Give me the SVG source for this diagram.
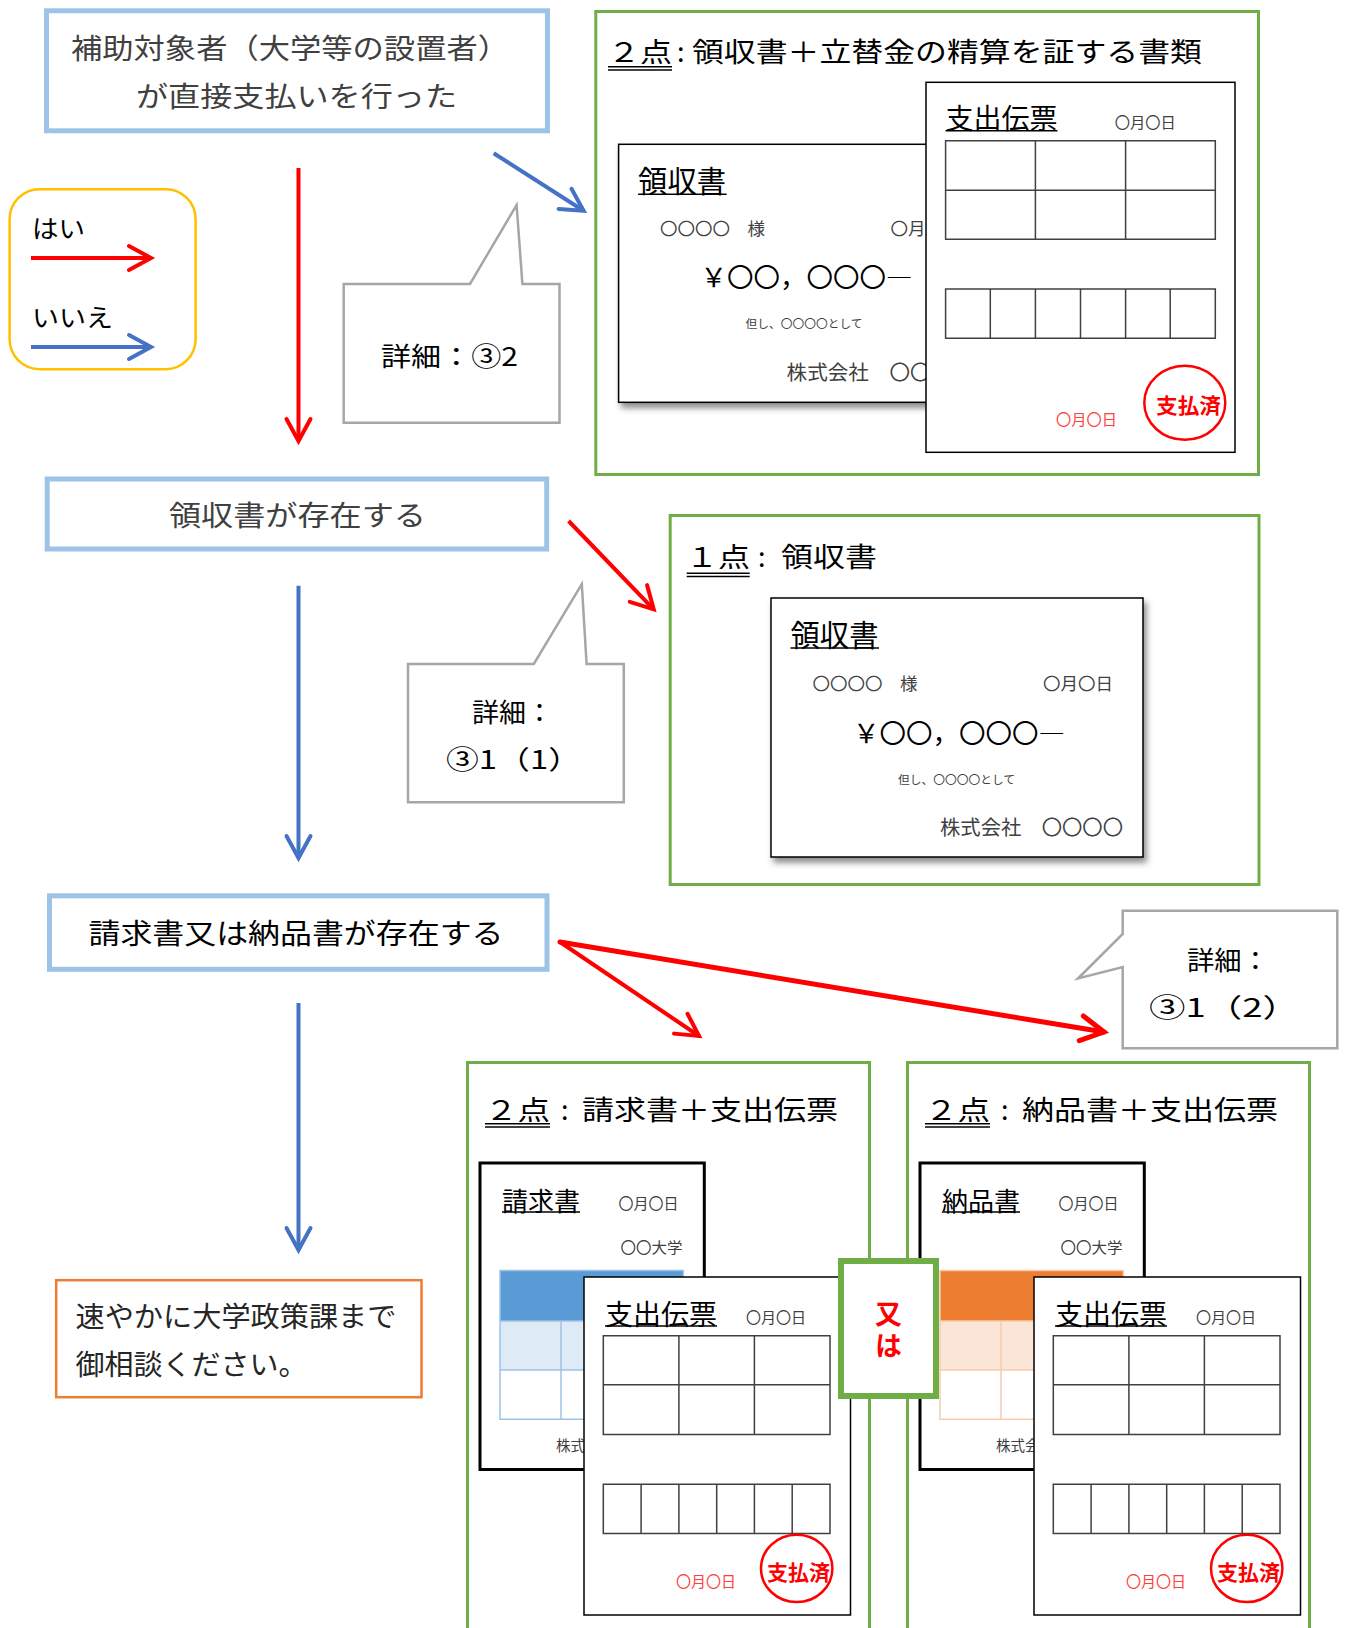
<svg xmlns="http://www.w3.org/2000/svg" width="1346" height="1628" viewBox="0 0 1346 1628">
  <style>
    text { font-family: "Noto Sans CJK JP", "Noto Sans CJK SC", sans-serif; dominant-baseline: central; }
    .flow { fill: #fff; stroke: #9DC3E6; stroke-width: 5; }
    .green { fill: #fff; stroke: #70AD47; stroke-width: 3; }
    .callout { fill: #fff; stroke: #A6A6A6; stroke-width: 2.5; stroke-linejoin: miter; }
    .card { fill: #fff; stroke: #000; stroke-width: 1.5; }
    .card-heavy { fill: #fff; stroke: #000; stroke-width: 3; }
    .grid { fill: none; stroke: #404040; stroke-width: 1.5; }
    .ul { stroke: #000; stroke-width: 1.5; }
    .dark { fill: #404040; }
    .black { fill: #000; }
    .small { fill: #404040; }
    .stamp { fill: none; stroke: #FF0000; stroke-width: 2.5; }
    .stamp-text { fill: #FF0000; font-weight: bold; }
    .red-date { fill: #FF4040; }
    .arrow { fill: none; stroke-width: 4; }
  </style>
  <defs>
    <filter id="shadow" x="-5%" y="-5%" width="115%" height="120%">
      <feDropShadow dx="3" dy="5" stdDeviation="3" flood-color="#000" flood-opacity="0.45"/>
    </filter>
    <marker id="head-red" markerUnits="userSpaceOnUse" viewBox="-30 -20 40 40" markerWidth="40" markerHeight="40" refX="0" refY="0" orient="auto" overflow="visible">
      <path d="M-22,-12 L0,0 L-22,12" fill="none" stroke="#FF0000" stroke-width="4" stroke-linecap="round" stroke-linejoin="miter"/>
    </marker>
    <marker id="head-red-thick" markerUnits="userSpaceOnUse" viewBox="-30 -20 40 40" markerWidth="40" markerHeight="40" refX="0" refY="0" orient="auto" overflow="visible">
      <path d="M-23,-12.5 L0,0 L-23,12.5" fill="none" stroke="#FF0000" stroke-width="5" stroke-linecap="round" stroke-linejoin="miter"/>
    </marker>
    <marker id="head-blue" markerUnits="userSpaceOnUse" viewBox="-30 -20 40 40" markerWidth="40" markerHeight="40" refX="0" refY="0" orient="auto" overflow="visible">
      <path d="M-22,-12 L0,0 L-22,12" fill="none" stroke="#4472C4" stroke-width="4" stroke-linecap="round" stroke-linejoin="miter"/>
    </marker>
  </defs>

  <rect width="1346" height="1628" fill="#fff"/>

  <!-- flow step: direct payment -->
  <g id="node-start">
    <rect class="flow" x="46.5" y="10.8" width="501" height="120"/>
    <text class="dark" x="71" y="47" font-size="28" textLength="438" lengthAdjust="spacingAndGlyphs">補助対象者（大学等の設置者）</text>
    <text class="dark" x="136" y="95" font-size="28" textLength="321" lengthAdjust="spacingAndGlyphs">が直接支払いを行った</text>
  </g>

  <!-- legend -->
  <g id="legend">
    <rect x="9.6" y="189.2" width="186" height="180" rx="30" fill="#fff" stroke="#FFC000" stroke-width="2.5"/>
    <text class="black" x="32" y="227" font-size="25" textLength="53" lengthAdjust="spacingAndGlyphs">はい</text>
    <path class="arrow" d="M31,258 L151,258" stroke="#FF0000" marker-end="url(#head-red)"/>
    <text class="black" x="32" y="316" font-size="25" textLength="81" lengthAdjust="spacingAndGlyphs">いいえ</text>
    <path class="arrow" d="M31,347 L151,347" stroke="#4472C4" marker-end="url(#head-blue)"/>
  </g>

  <!-- callout: detail 3-2 -->
  <g id="callout-1">
    <path class="callout" d="M343.7,284 L470,284 L516.6,205 L522.4,284 L559.5,284 L559.5,422.7 L343.7,422.7 Z"/>
    <text class="black" x="381" y="354" font-size="26" textLength="137" lengthAdjust="spacingAndGlyphs">詳細：③2</text>
  </g>

  <!-- two documents: receipt + expense slip -->
  <g id="doc-two-reimburse">
    <rect class="green" x="595.8" y="11.5" width="662.7" height="463"/>
    <text class="black" x="608" y="50" font-size="27" textLength="64" lengthAdjust="spacingAndGlyphs">２点</text>
    <line class="ul" x1="608" y1="66.7" x2="672" y2="66.7"/>
    <line class="ul" x1="608" y1="70" x2="672" y2="70"/>
    <text class="black" x="677" y="50" font-size="27">:</text>
    <text class="black" x="692" y="50" font-size="27" textLength="510" lengthAdjust="spacingAndGlyphs">領収書＋立替金の精算を証する書類</text>

    <!-- receipt (partly covered) -->
    <g transform="translate(618.6,144.3)">
      <rect class="card" x="0" y="0" width="372" height="258" filter="url(#shadow)"/>
      <text class="black" x="19.5" y="34.5" font-size="29.5" textLength="88" lengthAdjust="spacingAndGlyphs">領収書</text>
      <line class="ul" x1="19.5" y1="50" x2="108" y2="50"/>
      <text class="small" x="41.5" y="83" font-size="17.5" textLength="105" lengthAdjust="spacingAndGlyphs">〇〇〇〇　様</text>
      <text class="small" x="272" y="83" font-size="17.5" textLength="70" lengthAdjust="spacingAndGlyphs">〇月〇日</text>
      <text class="black" x="82" y="131" font-size="26.5" textLength="212" lengthAdjust="spacingAndGlyphs">￥〇〇，〇〇〇―</text>
      <text class="small" x="127" y="178.5" font-size="11.7" textLength="117" lengthAdjust="spacingAndGlyphs">但し、〇〇〇〇として</text>
      <text class="small" x="168" y="227" font-size="20" textLength="185" lengthAdjust="spacingAndGlyphs">株式会社　〇〇〇〇</text>
    </g>

    <!-- expense slip -->
    <rect class="card" x="926" y="82.3" width="309" height="370"/>
    <text class="black" x="945.6" y="117" font-size="28" textLength="112" lengthAdjust="spacingAndGlyphs">支出伝票</text>
    <line class="ul" x1="945.6" y1="130.7" x2="1057.5" y2="130.7"/>
    <text class="small" x="1114.7" y="121.7" font-size="15" textLength="61" lengthAdjust="spacingAndGlyphs">〇月〇日</text>
    <path class="grid" d="M945.6,140.7 H1215.3 V239.3 H945.6 Z M945.6,190.3 H1215.3 M1035.4,140.7 V239.3 M1125.6,140.7 V239.3"/>
    <path class="grid" d="M945.6,289 H1215.3 V338.3 H945.6 Z M990.3,289 V338.3 M1035.4,289 V338.3 M1080.5,289 V338.3 M1125.6,289 V338.3 M1170.2,289 V338.3"/>
    <text class="red-date" x="1056" y="418" font-size="15" textLength="61" lengthAdjust="spacingAndGlyphs">〇月〇日</text>
    <ellipse class="stamp" cx="1184.8" cy="402.8" rx="40.5" ry="37"/>
    <text class="stamp-text" x="1156" y="404" font-size="21" textLength="65" lengthAdjust="spacingAndGlyphs">支払済</text>
  </g>

  <!-- flow step: receipt exists -->
  <g id="node-receipt">
    <rect class="flow" x="47.2" y="479" width="499.5" height="70"/>
    <text class="dark" x="169" y="514" font-size="28" textLength="257" lengthAdjust="spacingAndGlyphs">領収書が存在する</text>
  </g>

  <!-- callout: detail 3-1(1) -->
  <g id="callout-2">
    <path class="callout" d="M408,664 L533.8,664 L581.8,584 L586.6,664 L623.8,664 L623.8,802.3 L408,802.3 Z"/>
    <text class="black" x="472" y="710" font-size="26" textLength="81" lengthAdjust="spacingAndGlyphs">詳細：</text>
    <text class="black" x="446" y="757" font-size="26" textLength="135" lengthAdjust="spacingAndGlyphs">③1（1）</text>
  </g>

  <!-- one document: receipt -->
  <g id="doc-one-receipt">
    <rect class="green" x="670.2" y="515.5" width="588.8" height="369"/>
    <text class="black" x="686" y="555" font-size="27" textLength="64" lengthAdjust="spacingAndGlyphs">１点</text>
    <line class="ul" x1="686.7" y1="573.3" x2="749.7" y2="573.3"/>
    <line class="ul" x1="686.7" y1="576.6" x2="749.7" y2="576.6"/>
    <text class="black" x="758" y="555" font-size="27">:</text>
    <text class="black" x="781" y="555" font-size="27" textLength="96" lengthAdjust="spacingAndGlyphs">領収書</text>

    <g transform="translate(771,598)">
      <rect class="card" x="0" y="0" width="372" height="259" filter="url(#shadow)"/>
      <text class="black" x="19.5" y="34.5" font-size="29.5" textLength="88" lengthAdjust="spacingAndGlyphs">領収書</text>
      <line class="ul" x1="19.5" y1="50" x2="108" y2="50"/>
      <text class="small" x="41.5" y="84" font-size="17.5" textLength="105" lengthAdjust="spacingAndGlyphs">〇〇〇〇　様</text>
      <text class="small" x="272" y="84" font-size="17.5" textLength="70" lengthAdjust="spacingAndGlyphs">〇月〇日</text>
      <text class="black" x="82" y="133" font-size="26.5" textLength="212" lengthAdjust="spacingAndGlyphs">￥〇〇，〇〇〇―</text>
      <text class="small" x="127" y="180" font-size="11.7" textLength="117" lengthAdjust="spacingAndGlyphs">但し、〇〇〇〇として</text>
      <text class="small" x="169" y="228" font-size="20" textLength="183" lengthAdjust="spacingAndGlyphs">株式会社　〇〇〇〇</text>
    </g>
  </g>

  <!-- flow step: invoice or delivery note exists -->
  <g id="node-invoice">
    <rect class="flow" x="49.5" y="895.8" width="497.5" height="73.5"/>
    <text class="black" x="88.5" y="931.5" font-size="28" textLength="415" lengthAdjust="spacingAndGlyphs">請求書又は納品書が存在する</text>
  </g>

  <!-- callout: detail 3-1(2) -->
  <g id="callout-3">
    <path class="callout" d="M1122.7,910.7 L1337.3,910.7 L1337.3,1048.3 L1122.7,1048.3 L1122.7,967 L1078,978.5 L1122.7,934 Z"/>
    <text class="black" x="1187" y="958" font-size="26" textLength="82" lengthAdjust="spacingAndGlyphs">詳細：</text>
    <text class="black" x="1149" y="1005" font-size="26" textLength="150" lengthAdjust="spacingAndGlyphs">③1（2）</text>
  </g>

  <!-- flow end: consult -->
  <g id="node-consult">
    <rect x="56.2" y="1280.2" width="365.3" height="117" fill="#fff" stroke="#ED7D31" stroke-width="2.5"/>
    <text x="75.5" y="1314" font-size="28.5" fill="#262626" textLength="321" lengthAdjust="spacingAndGlyphs">速やかに大学政策課まで</text>
    <text x="75.5" y="1362" font-size="28.5" fill="#262626" textLength="232" lengthAdjust="spacingAndGlyphs">御相談ください。</text>
  </g>

  <!-- two documents: invoice + expense slip -->
  <g id="doc-two-invoice">
    <rect class="green" x="467.5" y="1062.5" width="402" height="600"/>
    <text class="black" x="485" y="1108" font-size="27" textLength="65" lengthAdjust="spacingAndGlyphs">２点</text>
    <line class="ul" x1="485" y1="1123.7" x2="550" y2="1123.7"/>
    <line class="ul" x1="485" y1="1127" x2="550" y2="1127"/>
    <text class="black" x="561" y="1108" font-size="27">:</text>
    <text class="black" x="582" y="1108" font-size="27" textLength="256" lengthAdjust="spacingAndGlyphs">請求書＋支出伝票</text>

    <rect class="card-heavy" x="480" y="1163" width="224.3" height="306.5"/>
    <text class="black" x="502" y="1199" font-size="26" textLength="78" lengthAdjust="spacingAndGlyphs">請求書</text>
    <line class="ul" x1="502" y1="1212" x2="580" y2="1212"/>
    <text class="small" x="618.5" y="1202" font-size="15" textLength="60" lengthAdjust="spacingAndGlyphs">〇月〇日</text>
    <text class="small" x="620.5" y="1246" font-size="15" textLength="62" lengthAdjust="spacingAndGlyphs">〇〇大学</text>
    <rect x="500" y="1270.4" width="183.3" height="50.6" fill="#5B9BD5"/>
    <rect x="500" y="1321" width="183.3" height="49" fill="#DEEBF7"/>
    <path d="M500,1270.4 H683.3 V1419.3 H500 Z M500,1321 H683.3 M500,1370 H683.3 M561,1321 V1419.3 M622.2,1321 V1419.3" fill="none" stroke="#9DC3E6" stroke-width="1.5"/>
    <text class="small" x="556" y="1444" font-size="14.5" textLength="58" lengthAdjust="spacingAndGlyphs">株式会社</text>

    <rect class="card" x="584" y="1277" width="266.5" height="338"/>
    <text class="black" x="605" y="1312.6" font-size="28" textLength="112" lengthAdjust="spacingAndGlyphs">支出伝票</text>
    <line class="ul" x1="605" y1="1326" x2="717" y2="1326"/>
    <text class="small" x="746" y="1316" font-size="15" textLength="60" lengthAdjust="spacingAndGlyphs">〇月〇日</text>
    <path class="grid" d="M603.3,1335.7 H830 V1434.4 H603.3 Z M603.3,1384.7 H830 M678.9,1335.7 V1434.4 M754.4,1335.7 V1434.4"/>
    <path class="grid" d="M603.3,1484.2 H830 V1533.6 H603.3 Z M641.1,1484.2 V1533.6 M678.9,1484.2 V1533.6 M716.7,1484.2 V1533.6 M754.4,1484.2 V1533.6 M792.2,1484.2 V1533.6"/>
    <text class="red-date" x="676" y="1580" font-size="15" textLength="60" lengthAdjust="spacingAndGlyphs">〇月〇日</text>
    <ellipse class="stamp" cx="796.7" cy="1568.4" rx="35.7" ry="33.7"/>
    <text class="stamp-text" x="767" y="1570.6" font-size="21" textLength="63" lengthAdjust="spacingAndGlyphs">支払済</text>
  </g>

  <!-- two documents: delivery note + expense slip -->
  <g id="doc-two-delivery">
    <rect class="green" x="907.5" y="1062.5" width="402" height="600"/>
    <text class="black" x="925" y="1108" font-size="27" textLength="65" lengthAdjust="spacingAndGlyphs">２点</text>
    <line class="ul" x1="925" y1="1123.7" x2="990" y2="1123.7"/>
    <line class="ul" x1="925" y1="1127" x2="990" y2="1127"/>
    <text class="black" x="1001" y="1108" font-size="27">:</text>
    <text class="black" x="1022" y="1108" font-size="27" textLength="256" lengthAdjust="spacingAndGlyphs">納品書＋支出伝票</text>

    <rect class="card-heavy" x="920" y="1163" width="224.3" height="306.5"/>
    <text class="black" x="942" y="1199" font-size="26" textLength="78" lengthAdjust="spacingAndGlyphs">納品書</text>
    <line class="ul" x1="942" y1="1212" x2="1020" y2="1212"/>
    <text class="small" x="1058.5" y="1202" font-size="15" textLength="60" lengthAdjust="spacingAndGlyphs">〇月〇日</text>
    <text class="small" x="1060.5" y="1246" font-size="15" textLength="62" lengthAdjust="spacingAndGlyphs">〇〇大学</text>
    <rect x="940" y="1270.4" width="183.3" height="50.6" fill="#ED7D31"/>
    <rect x="940" y="1321" width="183.3" height="49" fill="#FBE5D6"/>
    <path d="M940,1270.4 H1123.3 V1419.3 H940 Z M940,1321 H1123.3 M940,1370 H1123.3 M1001,1321 V1419.3 M1062.2,1321 V1419.3" fill="none" stroke="#F8CBAD" stroke-width="1.5"/>
    <text class="small" x="996" y="1444" font-size="14.5" textLength="58" lengthAdjust="spacingAndGlyphs">株式会社</text>

    <rect class="card" x="1034" y="1277" width="266.5" height="338"/>
    <text class="black" x="1055" y="1312.6" font-size="28" textLength="112" lengthAdjust="spacingAndGlyphs">支出伝票</text>
    <line class="ul" x1="1055" y1="1326" x2="1167" y2="1326"/>
    <text class="small" x="1196" y="1316" font-size="15" textLength="60" lengthAdjust="spacingAndGlyphs">〇月〇日</text>
    <path class="grid" d="M1053.3,1335.7 H1280 V1434.4 H1053.3 Z M1053.3,1384.7 H1280 M1128.9,1335.7 V1434.4 M1204.4,1335.7 V1434.4"/>
    <path class="grid" d="M1053.3,1484.2 H1280 V1533.6 H1053.3 Z M1091.1,1484.2 V1533.6 M1128.9,1484.2 V1533.6 M1166.7,1484.2 V1533.6 M1204.4,1484.2 V1533.6 M1242.2,1484.2 V1533.6"/>
    <text class="red-date" x="1126" y="1580" font-size="15" textLength="60" lengthAdjust="spacingAndGlyphs">〇月〇日</text>
    <ellipse class="stamp" cx="1246.7" cy="1568.4" rx="35.7" ry="33.7"/>
    <text class="stamp-text" x="1217" y="1570.6" font-size="21" textLength="63" lengthAdjust="spacingAndGlyphs">支払済</text>
  </g>

  <!-- "or" badge between the two options, set vertically -->
  <g id="node-or">
    <rect x="841" y="1261" width="95" height="135" fill="#fff" stroke="#70AD47" stroke-width="6"/>
    <text x="888.5" y="1332" font-size="27" font-weight="bold" fill="#FF0000" text-anchor="middle" writing-mode="vertical-rl" letter-spacing="5">又は</text>
  </g>

  <!-- connectors -->
  <g id="connectors" class="arrow">
    <path d="M298.5,168 L298.5,441" stroke="#FF0000" stroke-width="4" marker-end="url(#head-red)"/>
    <path d="M493.7,153.3 L583.6,210.7" stroke="#4472C4" stroke-width="4" marker-end="url(#head-blue)"/>
    <path d="M568.6,521 L653.7,609.3" stroke="#FF0000" stroke-width="4" marker-end="url(#head-red)"/>
    <path d="M298.5,585.8 L298.5,858" stroke="#4472C4" stroke-width="4" marker-end="url(#head-blue)"/>
    <path d="M560,942 L699,1036" stroke="#FF0000" stroke-width="4" stroke-linecap="round" marker-end="url(#head-red)"/>
    <path d="M560,942 L1104,1032" stroke="#FF0000" stroke-width="5" stroke-linecap="round" marker-end="url(#head-red-thick)"/>
    <path d="M298.5,1003 L298.5,1250" stroke="#4472C4" stroke-width="4" marker-end="url(#head-blue)"/>
  </g>
</svg>
